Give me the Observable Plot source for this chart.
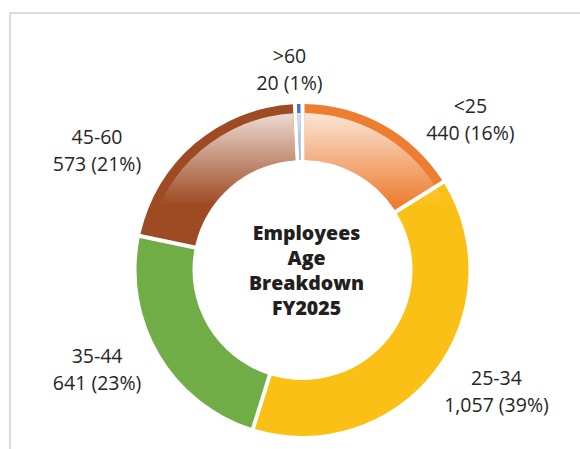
<!DOCTYPE html>
<html><head><meta charset="utf-8">
<script src="https://cdn.jsdelivr.net/npm/d3@7"></script>
<script src="https://cdn.jsdelivr.net/npm/@observablehq/plot@0.6"></script>
<style>html,body{margin:0;padding:0;background:#fff}#chart svg{display:block}</style>
</head><body><div id="chart"></div>
<script>
// ---- data ----
const ageGroups = ["<25", "25-34", "35-44", "45-60", ">60"];
const employees = [440, 1057, 641, 573, 20];
const titleLines = ["Employees", "Age", "Breakdown", "FY2025"];

// ---- style / layout ----
const sliceColors = ["#ED7D31", "#FBC015", "#70AD47", "#9E4A22", "#4472C4"];
const W = 580, H = 449;
const cx = 302.5, cy = 270, rOuter = 166, rInner = 110, rGloss = 157;
const labelShiftDeg = [18.6, -6.0, 5.1, -19.0, -2.5];
const labelRadius = [226.7, 227.3, 227.8, 239.3, 203.1];
const titleX = 306, titleY = 269;

const total = d3.sum(employees);
const table = ageGroups.map((g, i) => ({group: g, value: employees[i], color: sliceColors[i]}));
const arcs = d3.pie().sort(null).value(d => d.value)(table);

const labels = arcs.map((a, i) => {
  const mid = (a.startAngle + a.endAngle) / 2 + labelShiftDeg[i] * Math.PI / 180;
  const pct = Math.round(a.data.value / total * 100);
  return {
    x: cx + labelRadius[i] * Math.sin(mid),
    y: cy - labelRadius[i] * Math.cos(mid),
    text: `${a.data.group}\n${d3.format(",")(a.data.value)} (${pct}%)`
  };
});

function donut(index, scales) {
  const X = scales.x(cx), Y = scales.y(cy);
  const g = d3.create("svg:g");
  const grad = g.append("defs").append("linearGradient")
    .attr("id", "gloss").attr("gradientUnits", "userSpaceOnUse")
    .attr("x1", 0).attr("x2", 0).attr("y1", -rGloss).attr("y2", -rGloss + 92);
  grad.append("stop").attr("offset", 0).attr("stop-color", "#fff").attr("stop-opacity", 0.8);
  grad.append("stop").attr("offset", 1).attr("stop-color", "#fff").attr("stop-opacity", 0);
  const padR = 199, padA = 4 / 199;
  const arcBase = d3.arc().innerRadius(rInner).outerRadius(rOuter).padRadius(padR).padAngle(padA);
  const arcGloss = d3.arc().innerRadius(rInner).outerRadius(rGloss).padRadius(padR).padAngle(padA);
  const c = g.append("g").attr("transform", `translate(${X},${Y})`);
  c.selectAll("path.base").data(arcs).join("path").attr("class", "base")
    .attr("d", arcBase).attr("fill", d => d.data.color);
  c.selectAll("path.gloss").data(arcs).join("path").attr("class", "gloss")
    .attr("d", arcGloss).attr("fill", "url(#gloss)");
  return g.node();
}

const chart = Plot.plot({
  width: W, height: H, margin: 0,
  x: {domain: [0, W], range: [0, W], axis: null},
  y: {domain: [0, H], range: [0, H], axis: null},
  style: {fontFamily: "'Open Sans', sans-serif", background: "#fff"},
  marks: [
    Plot.frame({stroke: "#d0d0d0", strokeWidth: 1.5, insetLeft: 9.5, insetTop: 12.5, insetRight: -10, insetBottom: -10}),
    donut,
    Plot.text(labels, {x: "x", y: "y", text: "text", fontSize: 19.5, lineHeight: 1.38, fill: "#262626"}),
    Plot.text([titleLines.join("\n")], {x: () => titleX, y: () => titleY, text: d => d, fontSize: 19.5, fontWeight: 800, lineHeight: 1.29, fill: "#231f20"})
  ]
});
document.getElementById("chart").appendChild(chart);
</script>
</body></html>
